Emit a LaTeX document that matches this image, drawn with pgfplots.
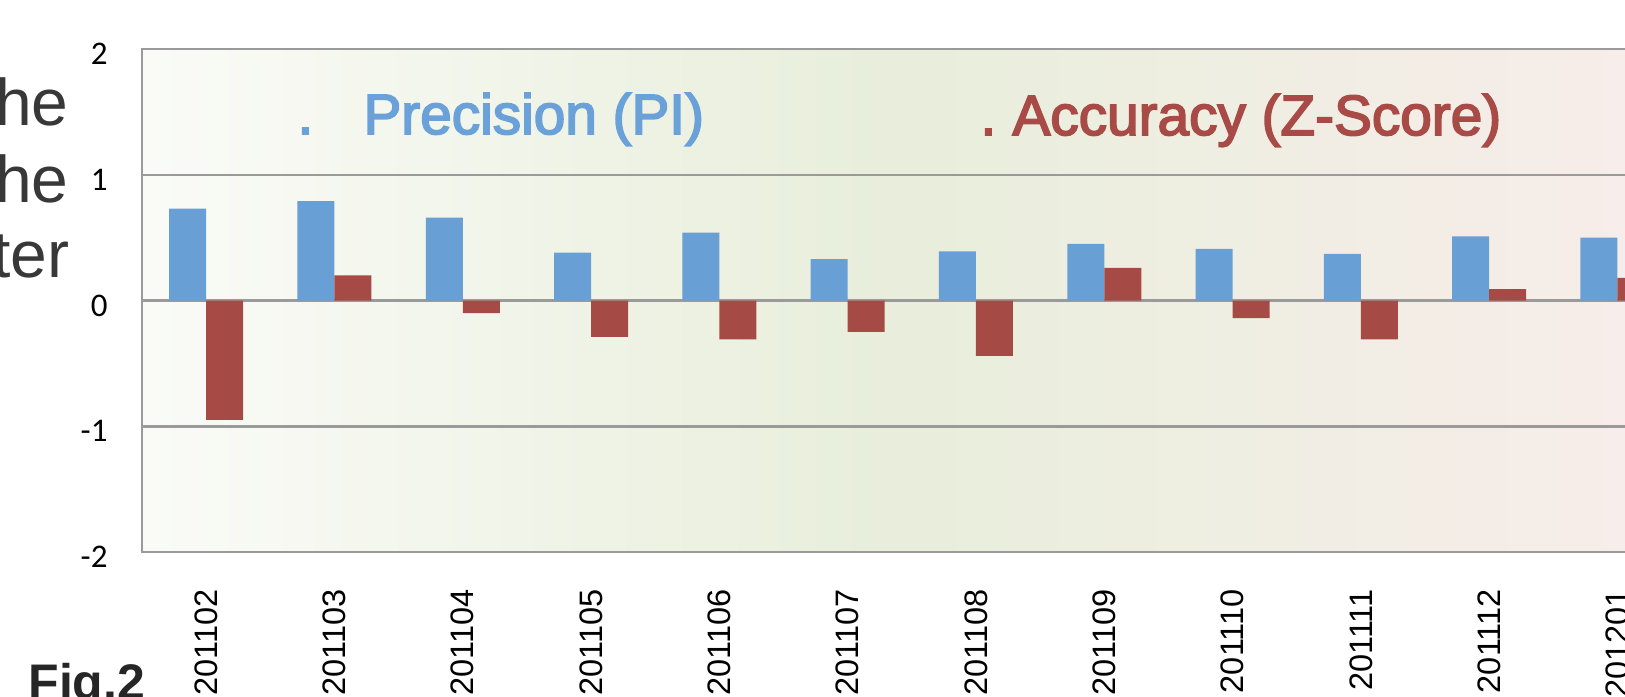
\documentclass[border=0pt]{standalone}
\usepackage{pgfplots}
\pgfplotsset{compat=1.18}
\usepackage{fontspec}
\setmainfont{Liberation Sans}
\newfontfamily\carlito{Carlito}
\newfontfamily\legfont{Liberation Sans}[FakeBold=3]
\definecolor{barblue}{HTML}{68A0D6}
\definecolor{barred}{HTML}{A64A45}
\definecolor{legblue}{HTML}{6AA1D8}
\definecolor{legred}{HTML}{A84A45}
\definecolor{gridgray}{HTML}{9A9A9A}
\definecolor{txtgray}{HTML}{383838}
\definecolor{bgL}{HTML}{FAFBF7}
\definecolor{bgM}{HTML}{E8EEDB}
\definecolor{bgR}{HTML}{F8EDEB}
\pgfdeclarehorizontalshading{bgshade}{100bp}{color(0bp)=(bgL); color(25bp)=(bgL); color(49bp)=(bgM); color(75bp)=(bgR); color(100bp)=(bgR)}

\begin{document}
\begin{tikzpicture}[x=0.4pt,y=0.4pt]
\useasboundingbox (0,0) rectangle (1625,696);
\clip (0,0) rectangle (1625,696);
\begin{axis}[
  at={(56.8pt,57.6pt)}, anchor=south west,
  scale only axis, width=615.84pt, height=201.2pt,
  xmin=-0.5, xmax=11.5, ymin=-2, ymax=2,
  ybar=0pt, bar width=14.8pt,
  xtick={0,...,11},
  xticklabels={201102,201103,201104,201105,201106,201107,201108,201109,201110,201111,201112,201201},
  ytick={-2,-1,0,1,2},
  major tick length=0pt,
  ymajorgrids,
  grid style={color=gridgray, line width=1pt},
  axis line style={color=gridgray, line width=1pt},
  axis background/.style={shading=bgshade},
  /pgf/number format/assume math mode=true,
  yticklabel style={font=\carlito\fontsize{13.2}{15}\selectfont, text=black, anchor=east, inner sep=0pt, yshift=-2pt},
  yticklabel shift=13.6pt,
  xticklabel style={font=\fontsize{13}{15}\selectfont, text=black, rotate=90, anchor=east, inner sep=0pt},
  xticklabel shift=14.8pt,
]
\addplot[fill=barblue, draw=none] coordinates {
  (0,0.73) (1,0.79) (2,0.66) (3,0.38) (4,0.54) (5,0.33)
  (6,0.39) (7,0.45) (8,0.41) (9,0.37) (10,0.51) (11,0.50)};
\addplot[fill=barred, draw=none] coordinates {
  (0,-0.95) (1,0.20) (2,-0.10) (3,-0.29) (4,-0.31) (5,-0.25)
  (6,-0.44) (7,0.26) (8,-0.14) (9,-0.31) (10,0.09) (11,0.18)};
\end{axis}
% legend texts
\node[anchor=base west, inner sep=0pt, text=legblue, font=\legfont\fontsize{22.7}{27}\selectfont] at (297,562) {.};
\node[anchor=base west, inner sep=0pt, text=legblue, font=\legfont\fontsize{22.7}{27}\selectfont] at (363,562) {Precision (PI)};
\node[anchor=base west, inner sep=0pt, text=legred, font=\legfont\fontsize{22.7}{27}\selectfont] at (980,561) {.};
\node[anchor=base west, inner sep=0pt, text=legred, font=\legfont\fontsize{22.7}{27}\selectfont] at (1012,561) {Accuracy (Z-Score)};
% surrounding page text fragments
\node[anchor=base east, inner sep=0pt, text=txtgray, font=\fontsize{26.4}{30}\selectfont] at (69,571) {he};
\node[anchor=base east, inner sep=0pt, text=txtgray, font=\fontsize{26.4}{30}\selectfont] at (69,494) {he};
\node[anchor=base east, inner sep=0pt, text=txtgray, font=\fontsize{26.4}{30}\selectfont] at (70,419) {ter};
\node[anchor=base west, inner sep=0pt, text=black!85, font=\bfseries\fontsize{20}{24}\selectfont] at (28,-3) {Fig.2};
\end{tikzpicture}
\end{document}
